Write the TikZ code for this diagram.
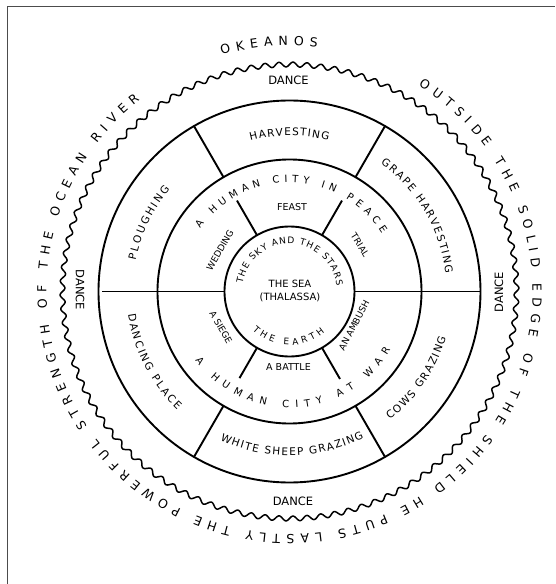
\documentclass[tikz,border=0pt]{standalone}
\usepackage{fontspec}
\setmainfont{DejaVu Sans}
\usetikzlibrary{decorations.text}
\newcommand{\outerfont}{\fontsize{12.5}{15}\selectfont}
\newcommand{\ringfont}{\fontsize{10.5}{13}\selectfont}
\newcommand{\cityfont}{\fontsize{10}{12}\selectfont}
\newcommand{\smallfont}{\fontsize{9}{11}\selectfont}
\tikzset{
  ring/.style={draw=black, line width=1.9pt},
  spoke/.style={draw=black, line width=1.9pt},
  wave/.style={draw=black, line width=1.5pt},
  frame/.style={draw=black!70, line width=1pt},
  lbl/.style={font=\ringfont, inner sep=0pt, align=center},
  small/.style={font=\smallfont, inner sep=0pt, align=center},
  curved/.style={decorate, decoration={text along path, text align={fit to path}, text={#1}}}
}
\begin{document}
\begin{tikzpicture}[x=1pt, y=1pt]
  \useasboundingbox (-289.5,-292.5) rectangle (265.5,291.5);
  \draw[frame] (-281.5,-292.5) -- (-281.5,284.5) -- (265.5,284.5);

  % rings
  \draw[ring] (0,0) circle[radius=65];
  \draw[ring] (0,0) circle[radius=132];
  \draw[ring] (0,0) circle[radius=191];
  \draw[wave] plot[domain=0:102, samples=1429, variable=\t] ({\t*3.529412}:{227+2.4*sin(360*frac(\t))}) -- cycle;

  % spokes
  \draw[spoke] (180:65) -- (180:187);
  \draw[spoke] (0:65) -- (0:191);
  \foreach \a in {60,120,240,300} {
    \draw[spoke] (\a:132) -- (\a:191);
  }
  \draw[spoke] (60:65) -- (60:105);
  \draw[spoke] (120:65) -- (120:105);
  \draw[spoke] (240:65) -- (240:100);
  \draw[spoke] (300:65) -- (300:101);

  % ocean
  \path[curved={|\outerfont|OKEANOS}] (106:246) arc[start angle=106, end angle=83.5, radius=246];
  \path[curved={|\outerfont|OUTSIDE THE SOLID EDGE OF THE SHIELD HE PUTS LASTLY THE POWERFUL STRENGTH OF THE OCEAN RIVER}]
    (58:243) arc[start angle=58, end angle=-232, radius=243];

  \node[lbl, font=\fontsize{11.5}{14}\selectfont] (dancetop) at (-1,211.5) {DANCE};
  \node[lbl, font=\fontsize{11.5}{14}\selectfont] (dancebottom) at (3.5,-209.5) {DANCE};
  \node[lbl, font=\fontsize{11.5}{14}\selectfont, rotate=-90] (danceleft) at (-209.5,1.5) {DANCE};
  \node[lbl, font=\fontsize{11.5}{14}\selectfont, rotate=90] (danceright) at (209.5,-0.5) {DANCE};

  % outer ring
  \path[curved={|\ringfont|HARVESTING}] (104.5:156) arc[start angle=104.5, end angle=75.5, radius=156];
  \path[curved={|\ringfont|GRAPE HARVESTING}] (54.5:157) arc[start angle=54.5, end angle=6.5, radius=157];
  \path[curved={|\ringfont|PLOUGHING}] (168.5:157) arc[start angle=168.5, end angle=139.5, radius=157];
  \path[curved={|\ringfont|DANCING PLACE}] (188:163) arc[start angle=188, end angle=226.5, radius=163];
  \path[curved={|\ringfont|WHITE SHEEP GRAZING}] (245:164) arc[start angle=245, end angle=297, radius=164];
  \path[curved={|\ringfont|COWS GRAZING}] (-52:163) arc[start angle=-52, end angle=-16.3, radius=163];

  % human city ring
  \path[curved={|\cityfont|A HUMAN CITY IN PEACE}] (145:109) arc[start angle=145, end angle=32, radius=109];
  \path[curved={|\cityfont|A HUMAN CITY AT WAR}] (216:116.5) arc[start angle=216, end angle=330, radius=116.5];
  \node[small, font=\fontsize{9.5}{12}\selectfont] (feast) at (2.5,84) {FEAST};
  \node[small, rotate=60] (wedding) at (-69.5,41.5) {WEDDING};
  \node[small, rotate=-58] (trial) at (70.5,46.5) {TRIAL};
  \node[small, rotate=-60] (siege) at (-68.5,-36) {A SIEGE};
  \node[small, rotate=62] (ambush) at (64.5,-34) {AN AMBUSH};
  \node[small, font=\fontsize{9.5}{12}\selectfont] (battle) at (-1,-75.5) {A BATTLE};

  % centre
  \path[curved={|\smallfont|THE SKY AND THE STARS}] (170.5:47.5) arc[start angle=170.5, end angle=7, radius=47.5];
  \path[curved={|\smallfont|THE EARTH}] (226:53.5) arc[start angle=226, end angle=311, radius=53.5];
  \node[lbl, font=\fontsize{10}{13}\selectfont] (sea) at (0.5,0.5) {THE SEA\\(THALASSA)};
\end{tikzpicture}
\end{document}
